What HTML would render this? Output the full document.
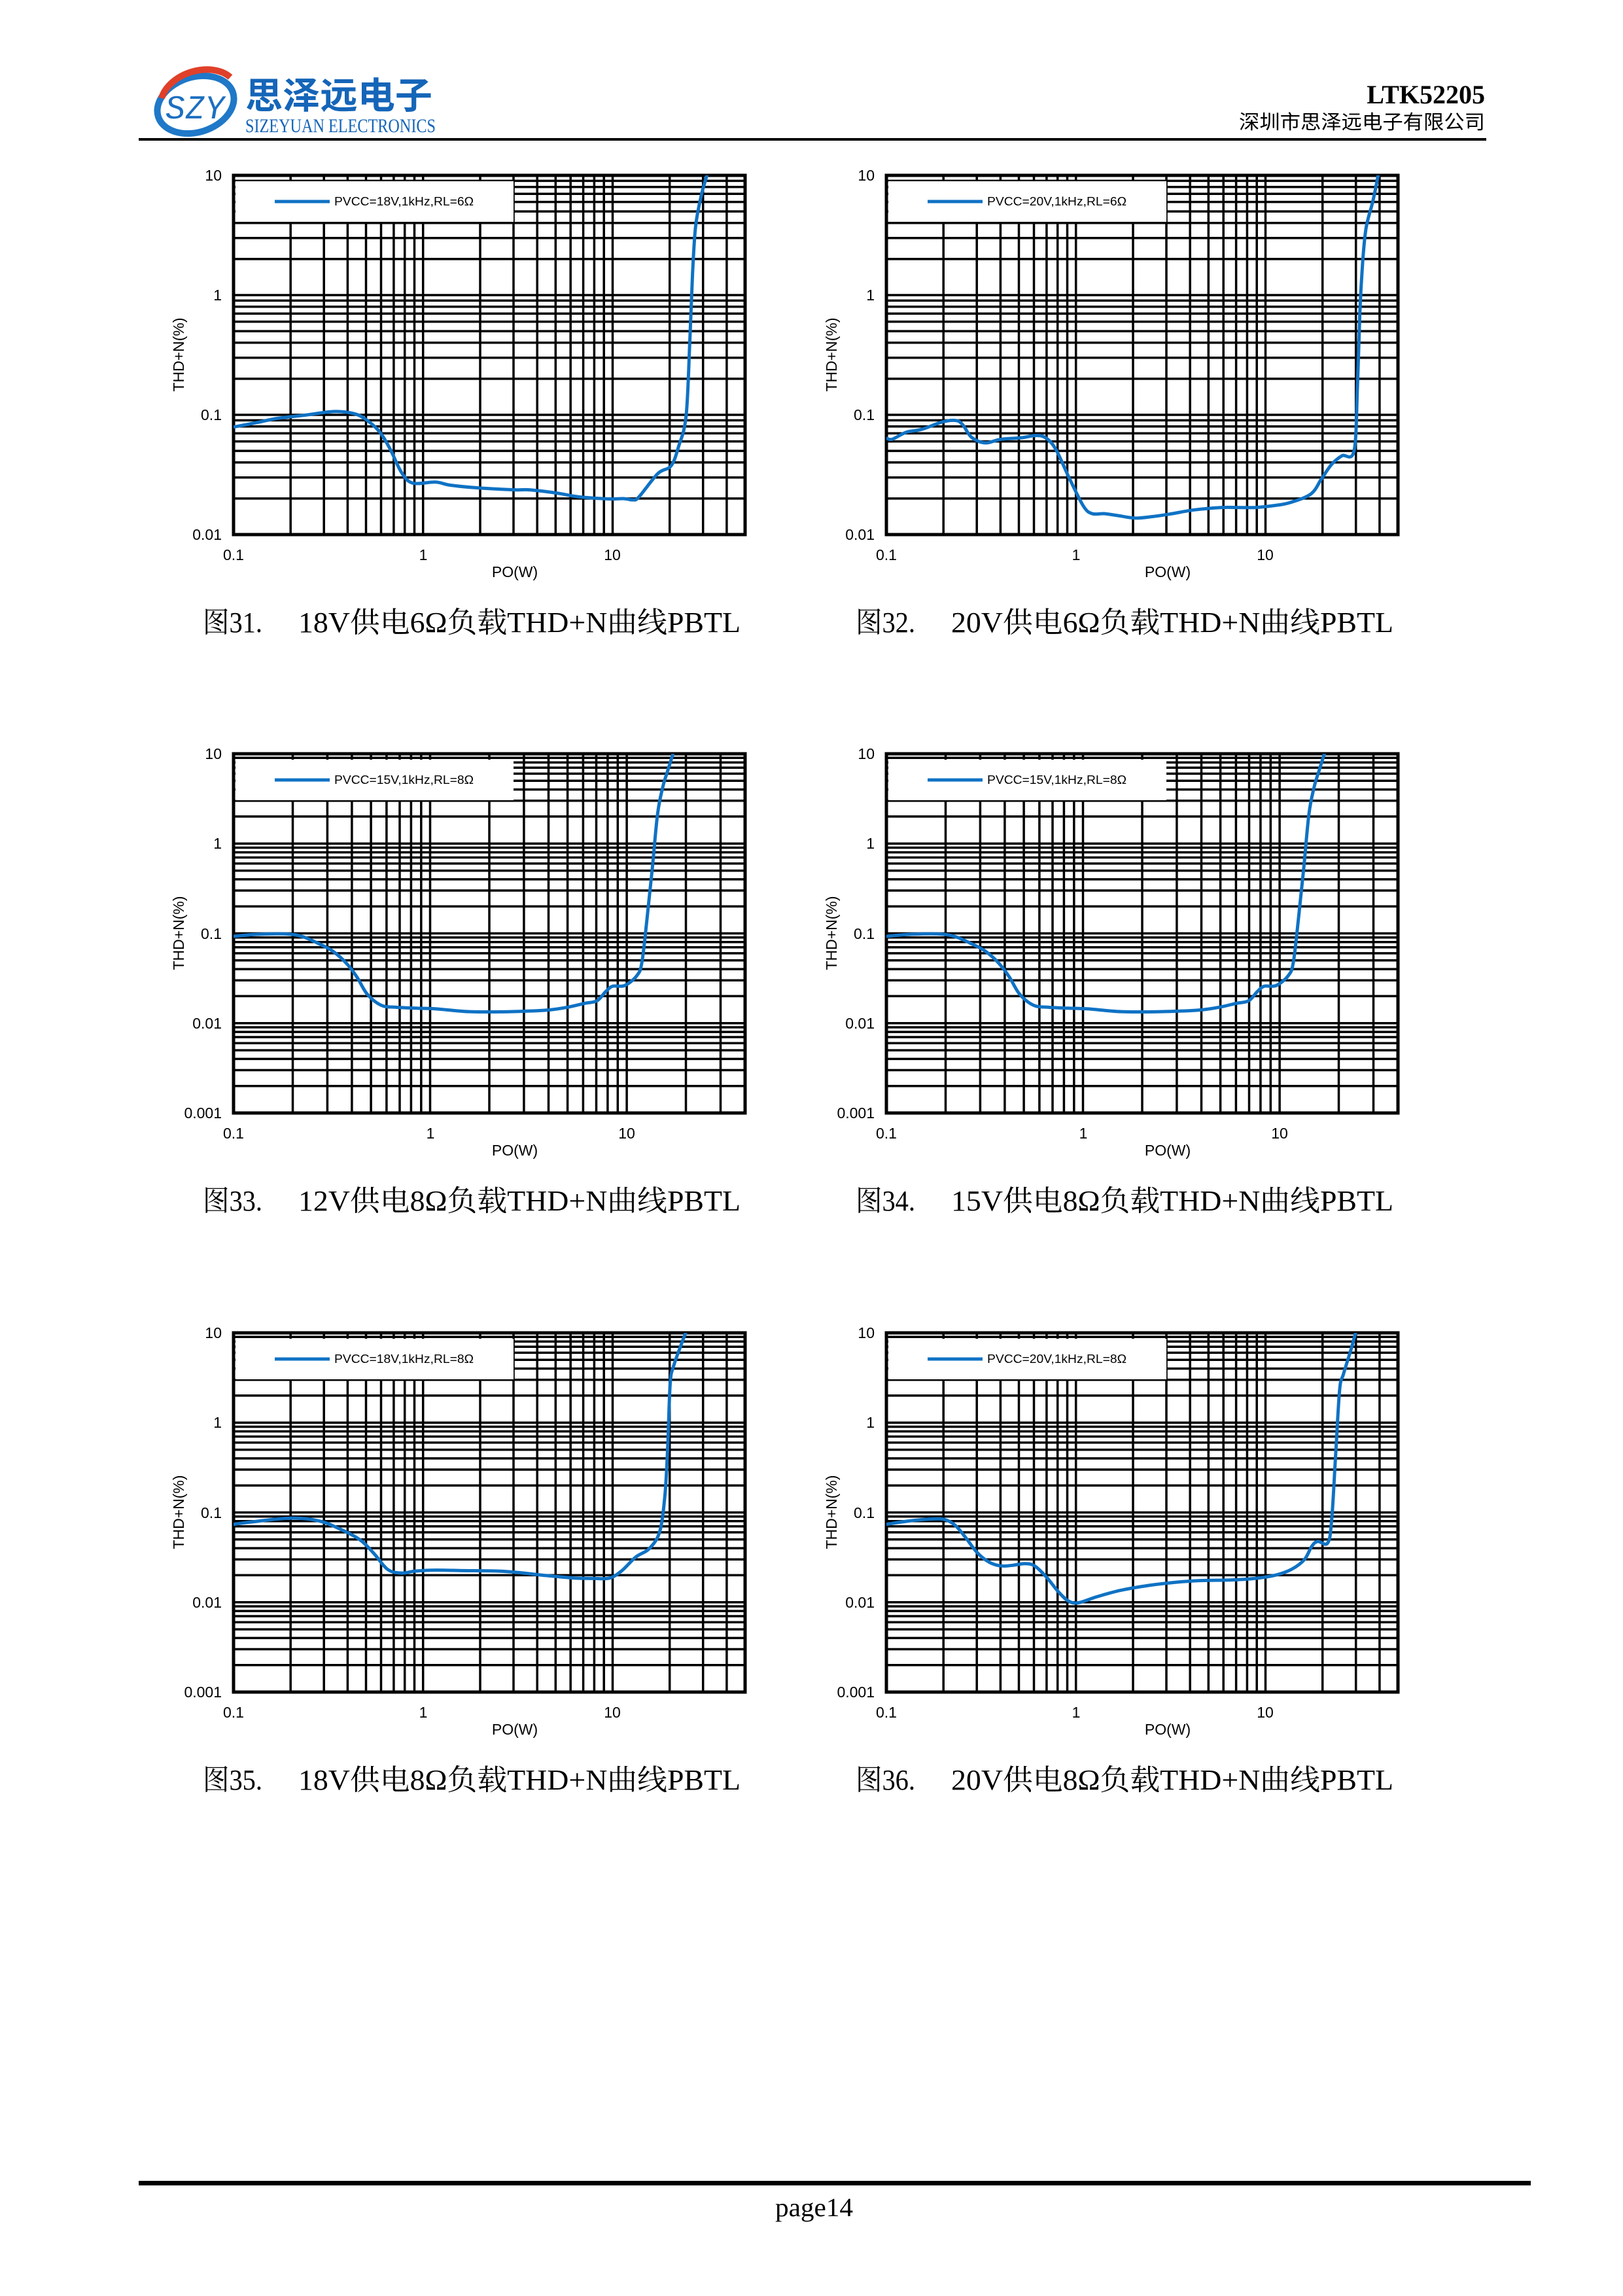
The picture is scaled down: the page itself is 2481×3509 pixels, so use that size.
<!DOCTYPE html>
<html><head><meta charset="utf-8">
<style>
html,body{margin:0;padding:0;background:#fff;}
svg{display:block;}
.tk{font-family:"Liberation Sans",sans-serif;font-size:23px;fill:#000;}
.lg{font-family:"Liberation Sans","Noto Sans CJK SC",sans-serif;font-size:18px;fill:#000;}
.cap{font-family:"Liberation Serif","Noto Serif CJK SC",serif;font-size:44px;fill:#000;}
</style></head>
<body>
<svg id="s" xmlns="http://www.w3.org/2000/svg" width="2481" height="3509" viewBox="0 0 2481 3509">
<rect width="2481" height="3509" fill="#fff"/>
<!-- header -->
<g>
  <ellipse cx="299" cy="160" rx="60" ry="42" transform="rotate(-18 299 160)" fill="none" stroke="#1f78c8" stroke-width="10"/>
  <path d="M247,150 A60,42 -18 0 1 352,118" fill="none" stroke="#e0402a" stroke-width="10" transform="rotate(-0 299 160)"/>
  <text x="252" y="182" font-family="Liberation Sans,sans-serif" font-weight="bold" font-style="italic" font-size="52" fill="#1d6fc0" stroke="#fff" stroke-width="2" textLength="92" lengthAdjust="spacingAndGlyphs">SZY</text>
  <text x="375" y="166" font-family="'Noto Sans CJK SC','WenQuanYi Zen Hei',sans-serif" font-weight="bold" font-size="56" fill="#1565b8" textLength="286" lengthAdjust="spacingAndGlyphs">思泽远电子</text>
  <text x="375" y="202" font-family="'Liberation Serif',serif" font-size="30" fill="#1565b8" textLength="291" lengthAdjust="spacingAndGlyphs">SIZEYUAN ELECTRONICS</text>
  <text x="2270" y="158" text-anchor="end" font-family="'Liberation Serif',serif" font-weight="bold" font-size="40" fill="#000">LTK52205</text>
  <text x="1894" y="197" font-family="'Liberation Serif','Noto Sans CJK SC',sans-serif" font-size="30" fill="#000" textLength="376" lengthAdjust="spacingAndGlyphs">深圳市思泽远电子有限公司</text>
  <rect x="212" y="211" width="2060" height="4" fill="#000"/>
</g>
<g id="charts"></g>

<!-- static text for charts -->
<!-- Chart 1 -->
<g class="tk" text-anchor="end">
<text x="339" y="276">10</text><text x="339" y="459">1</text><text x="339" y="642">0.1</text><text x="339" y="825">0.01</text>
<text x="1337" y="276">10</text><text x="1337" y="459">1</text><text x="1337" y="642">0.1</text><text x="1337" y="825">0.01</text>
<text x="339" y="1160">10</text><text x="339" y="1297">1</text><text x="339" y="1435">0.1</text><text x="339" y="1572">0.01</text><text x="339" y="1709">0.001</text>
<text x="1337" y="1160">10</text><text x="1337" y="1297">1</text><text x="1337" y="1435">0.1</text><text x="1337" y="1572">0.01</text><text x="1337" y="1709">0.001</text>
<text x="339" y="2045">10</text><text x="339" y="2182">1</text><text x="339" y="2320">0.1</text><text x="339" y="2457">0.01</text><text x="339" y="2594">0.001</text>
<text x="1337" y="2045">10</text><text x="1337" y="2182">1</text><text x="1337" y="2320">0.1</text><text x="1337" y="2457">0.01</text><text x="1337" y="2594">0.001</text>
</g>
<g class="tk" text-anchor="middle">
<text x="357" y="856">0.1</text><text x="647" y="856">1</text><text x="936" y="856">10</text>
<text x="1355" y="856">0.1</text><text x="1645" y="856">1</text><text x="1934" y="856">10</text>
<text x="357" y="1740">0.1</text><text x="658" y="1740">1</text><text x="958" y="1740">10</text>
<text x="1355" y="1740">0.1</text><text x="1656" y="1740">1</text><text x="1956" y="1740">10</text>
<text x="357" y="2625">0.1</text><text x="647" y="2625">1</text><text x="936" y="2625">10</text>
<text x="1355" y="2625">0.1</text><text x="1645" y="2625">1</text><text x="1934" y="2625">10</text>
<text x="787" y="882">PO(W)</text><text x="1785" y="882">PO(W)</text>
<text x="787" y="1766">PO(W)</text><text x="1785" y="1766">PO(W)</text>
<text x="787" y="2651">PO(W)</text><text x="1785" y="2651">PO(W)</text>
<text transform="translate(281 542) rotate(-90)">THD+N(%)</text>
<text transform="translate(1279 542) rotate(-90)">THD+N(%)</text>
<text transform="translate(281 1426) rotate(-90)">THD+N(%)</text>
<text transform="translate(1279 1426) rotate(-90)">THD+N(%)</text>
<text transform="translate(281 2311) rotate(-90)">THD+N(%)</text>
<text transform="translate(1279 2311) rotate(-90)">THD+N(%)</text>
</g>
<g class="cap">
<text x="310" y="966" textLength="91" lengthAdjust="spacingAndGlyphs">图31.</text>
<text x="456" y="966" textLength="676" lengthAdjust="spacingAndGlyphs">18V供电6Ω负载THD+N曲线PBTL</text>
<text x="1308" y="966" textLength="91" lengthAdjust="spacingAndGlyphs">图32.</text>
<text x="1454" y="966" textLength="676" lengthAdjust="spacingAndGlyphs">20V供电6Ω负载THD+N曲线PBTL</text>
<text x="310" y="1850" textLength="91" lengthAdjust="spacingAndGlyphs">图33.</text>
<text x="456" y="1850" textLength="676" lengthAdjust="spacingAndGlyphs">12V供电8Ω负载THD+N曲线PBTL</text>
<text x="1308" y="1850" textLength="91" lengthAdjust="spacingAndGlyphs">图34.</text>
<text x="1454" y="1850" textLength="676" lengthAdjust="spacingAndGlyphs">15V供电8Ω负载THD+N曲线PBTL</text>
<text x="310" y="2735" textLength="91" lengthAdjust="spacingAndGlyphs">图35.</text>
<text x="456" y="2735" textLength="676" lengthAdjust="spacingAndGlyphs">18V供电8Ω负载THD+N曲线PBTL</text>
<text x="1308" y="2735" textLength="91" lengthAdjust="spacingAndGlyphs">图36.</text>
<text x="1454" y="2735" textLength="676" lengthAdjust="spacingAndGlyphs">20V供电8Ω负载THD+N曲线PBTL</text>
</g>
<g id="legendtext" class="lg"></g>
<g class="lg">
<text x="511" y="314" textLength="213" lengthAdjust="spacingAndGlyphs">PVCC=18V,1kHz,RL=6Ω</text>
<text x="1509" y="314" textLength="213" lengthAdjust="spacingAndGlyphs">PVCC=20V,1kHz,RL=6Ω</text>
<text x="511" y="1198" textLength="213" lengthAdjust="spacingAndGlyphs">PVCC=15V,1kHz,RL=8Ω</text>
<text x="1509" y="1198" textLength="213" lengthAdjust="spacingAndGlyphs">PVCC=15V,1kHz,RL=8Ω</text>
<text x="511" y="2083" textLength="213" lengthAdjust="spacingAndGlyphs">PVCC=18V,1kHz,RL=8Ω</text>
<text x="1509" y="2083" textLength="213" lengthAdjust="spacingAndGlyphs">PVCC=20V,1kHz,RL=8Ω</text>
</g>
<!-- footer -->
<rect x="212" y="3333" width="2128" height="7" fill="#000"/>
<text x="1185" y="3387" font-family="'Liberation Serif',serif" font-size="40" fill="#000" textLength="119" lengthAdjust="spacingAndGlyphs">page14</text>
</svg>
<script>
(function(){
var NS="http://www.w3.org/2000/svg";
var root=document.getElementById("charts");
function el(n,a){var e=document.createElementNS(NS,n);for(var k in a)e.setAttribute(k,a[k]);return e;}
var W=782,H=549;
var charts=[
 {L:357,T:268,xmax:50,nd:3,cal:[185,502.5,72,463],pts:[[185,1045],[240,1030],[300,1012],[370,1000],[430,988],[460,985],[500,992],[530,1010],[570,1060],[600,1130],[630,1220],[660,1262],[720,1258],[760,1270],[830,1280],[930,1288],[970,1288],[1040,1300],[1100,1315],[1180,1323],[1220,1322],[1245,1327],[1260,1315],[1310,1225],[1345,1195],[1365,1120],[1385,1000],[1395,700],[1402,450],[1410,270],[1425,150],[1440,72]]},
 {L:1355,T:268,xmax:50,nd:3,cal:[28,550,47,486],pts:[[30,1115],[45,1118],[85,1090],[130,1078],[190,1048],[230,1042],[250,1060],[275,1110],[315,1133],[360,1118],[420,1112],[460,1103],[490,1112],[520,1160],[560,1280],[600,1390],[625,1420],[660,1420],[700,1428],[750,1438],[800,1432],[850,1422],[920,1405],[1000,1395],[1050,1395],[1100,1395],[1150,1388],[1200,1375],[1260,1340],[1290,1280],[1320,1220],[1350,1185],[1385,1165],[1395,900],[1402,600],[1410,400],[1420,260],[1440,150],[1455,47]]},
 {L:357,T:1152,xmax:40,nd:4,cal:[33,569,33,365],pts:[[33,775],[100,767],[180,765],[230,775],[280,805],[320,835],[360,885],[390,940],[420,1010],[460,1055],[500,1063],[560,1067],[620,1070],[700,1080],[780,1082],[860,1080],[940,1075],[1000,1063],[1050,1047],[1085,1037],[1110,1000],[1130,978],[1165,975],[1200,935],[1215,880],[1230,700],[1245,500],[1260,280],[1275,170],[1290,100],[1305,33]]},
 {L:1355,T:1152,xmax:40,nd:4,cal:[29,571,33,365],pts:[[29,775],[96,767],[176,765],[226,775],[276,805],[316,835],[356,885],[386,940],[416,1010],[456,1055],[496,1063],[556,1067],[616,1070],[696,1080],[776,1082],[856,1080],[936,1075],[996,1063],[1046,1047],[1081,1037],[1106,1000],[1126,978],[1161,975],[1196,935],[1211,880],[1226,700],[1241,500],[1256,280],[1271,170],[1286,100],[1301,33]]},
 {L:357,T:2037,xmax:50,nd:4,cal:[33,550,45,364.5],pts:[[33,822],[100,810],[200,797],[280,808],[340,840],[400,885],[440,940],[480,1005],[520,1020],[560,1012],[620,1008],[700,1010],[800,1012],[860,1018],[940,1030],[1020,1040],[1080,1042],[1125,1040],[1160,1010],[1200,955],[1240,920],[1270,850],[1285,700],[1293,500],[1300,250],[1310,180],[1330,100],[1345,45]]},
 {L:1355,T:2037,xmax:50,nd:4,cal:[173,475.5,75,275.5],pts:[[175,662],[230,652],[290,646],[320,648],[345,665],[370,700],[400,748],[430,778],[460,790],[490,788],[520,783],[545,790],[575,825],[605,870],[630,898],[655,903],[700,885],[760,865],[830,850],[900,840],[960,835],[1040,833],[1100,828],[1150,818],[1190,800],[1222,770],[1240,730],[1255,715],[1280,720],[1290,650],[1300,450],[1310,250],[1320,200],[1340,120],[1350,75]]}
];
charts.forEach(function(c,i){
  var g=el("g",{});
  var xs=W/Math.log10(c.xmax/0.1), ys=H/c.nd;
  function X(v){return c.L+Math.log10(v/0.1)*xs;}
  function Y(v){return c.T+(1-Math.log10(v))*ys;}
  var d="";
  // vertical grid
  for(var k=-1;k<=1;k++){for(var m=1;m<=9;m++){var v=m*Math.pow(10,k);if(v<=0.1||v>=c.xmax)continue;var x=X(v).toFixed(1);d+="M"+x+","+c.T+"V"+(c.T+H);}}
  // horizontal grid
  var ymin=Math.pow(10,1-c.nd);
  for(var k=1-c.nd;k<=0;k++){for(var m=1;m<=9;m++){var v=m*Math.pow(10,k);if(v<=ymin||v>=10)continue;var y=Y(v).toFixed(1);d+="M"+c.L+","+y+"H"+(c.L+W);}}
  g.appendChild(el("path",{d:d,stroke:"#000","stroke-width":"3.5",fill:"none"}));
  // legend box
  g.appendChild(el("rect",{x:c.L+3,y:c.T+9,width:425,height:62,fill:"#fff"}));
  g.appendChild(el("rect",{x:c.L,y:c.T,width:W,height:H,fill:"none",stroke:"#000","stroke-width":"5"}));
  // curve
  var cal=c.cal, P=c.pts.map(function(p){
    var lx=-1+(p[0]-cal[0])/cal[1], ly=1-(p[1]-cal[2])/cal[3];
    return [c.L+(lx+1)*xs, c.T+(1-ly)*ys];
  });
  var s="M"+P[0][0].toFixed(1)+","+P[0][1].toFixed(1);
  for(var j=0;j<P.length-1;j++){
    var p0=P[j-1]||P[j],p1=P[j],p2=P[j+1],p3=P[j+2]||p2;
    var c1=[p1[0]+(p2[0]-p0[0])/6,p1[1]+(p2[1]-p0[1])/6];
    var c2=[p2[0]-(p3[0]-p1[0])/6,p2[1]-(p3[1]-p1[1])/6];
    s+="C"+c1[0].toFixed(1)+","+c1[1].toFixed(1)+" "+c2[0].toFixed(1)+","+c2[1].toFixed(1)+" "+p2[0].toFixed(1)+","+p2[1].toFixed(1);
  }
  var cid="cl"+i;
  var cp=el("clipPath",{id:cid});cp.appendChild(el("rect",{x:c.L,y:c.T,width:W,height:H}));g.appendChild(cp);
  g.appendChild(el("path",{d:s,stroke:"#0f72c4","stroke-width":"5",fill:"none","stroke-linejoin":"round","stroke-linecap":"round","clip-path":"url(#"+cid+")"}));
  // legend line
  g.appendChild(el("line",{x1:c.L+63,y1:c.T+40,x2:c.L+147,y2:c.T+40,stroke:"#0f72c4","stroke-width":"5"}));
  root.appendChild(g);
});
})();
</script>
</body></html>
